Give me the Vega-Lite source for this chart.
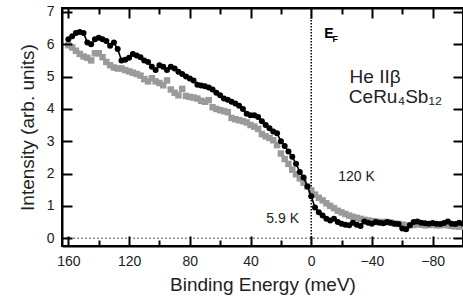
{
  "$schema": "https://vega.github.io/schema/vega-lite/v6.json",
  "width": 401,
  "height": 238,
  "autosize": {"type": "none"},
  "padding": {"left": 62, "top": 8, "right": 0, "bottom": 57},
  "background": "white",
  "config": {
    "view": {"stroke": "#000000", "strokeWidth": 2},
    "font": "Liberation Sans",
    "axis": {"labelFont": "Liberation Sans", "titleFont": "Liberation Sans", "grid": false, "domainWidth": 2, "tickWidth": 2}
  },
  "datasets": {
    "low": [
      {"E": 160, "I": 6.15}, {"E": 157.5, "I": 6.25}, {"E": 155, "I": 6.35}, {"E": 152.5, "I": 6.38}, {"E": 150, "I": 6.35},
      {"E": 147.5, "I": 6.05}, {"E": 145, "I": 6.0}, {"E": 142.5, "I": 6.15}, {"E": 140, "I": 6.2}, {"E": 137.5, "I": 6.15},
      {"E": 135, "I": 6.1}, {"E": 132.5, "I": 5.95}, {"E": 130, "I": 6.05}, {"E": 127.5, "I": 5.85}, {"E": 125, "I": 5.5},
      {"E": 122.5, "I": 5.52}, {"E": 120, "I": 5.58}, {"E": 117.5, "I": 5.7}, {"E": 115, "I": 5.65}, {"E": 112.5, "I": 5.6},
      {"E": 110, "I": 5.5}, {"E": 107.5, "I": 5.45}, {"E": 105, "I": 5.3}, {"E": 102.5, "I": 5.2}, {"E": 100, "I": 5.35},
      {"E": 97.5, "I": 5.3}, {"E": 95, "I": 5.2}, {"E": 92.5, "I": 5.3}, {"E": 90, "I": 5.25}, {"E": 87.5, "I": 5.15},
      {"E": 85, "I": 5.08}, {"E": 82.5, "I": 5.0}, {"E": 80, "I": 4.94}, {"E": 77.5, "I": 4.88}, {"E": 75, "I": 4.75},
      {"E": 72.5, "I": 4.72}, {"E": 70, "I": 4.7}, {"E": 67.5, "I": 4.66}, {"E": 65, "I": 4.6}, {"E": 62.5, "I": 4.5},
      {"E": 60, "I": 4.42}, {"E": 57.5, "I": 4.32}, {"E": 55, "I": 4.28}, {"E": 52.5, "I": 4.22}, {"E": 50, "I": 4.17},
      {"E": 47.5, "I": 4.1}, {"E": 45, "I": 4.0}, {"E": 42.5, "I": 3.85}, {"E": 40, "I": 3.8}, {"E": 37.5, "I": 3.8},
      {"E": 35, "I": 3.75}, {"E": 32.5, "I": 3.62}, {"E": 30, "I": 3.5}, {"E": 27.5, "I": 3.4}, {"E": 25, "I": 3.3},
      {"E": 22.5, "I": 3.25}, {"E": 20, "I": 3.0}, {"E": 17.5, "I": 2.85}, {"E": 15, "I": 2.68}, {"E": 12.5, "I": 2.52},
      {"E": 10, "I": 2.3}, {"E": 7.5, "I": 2.05}, {"E": 5, "I": 1.88}, {"E": 2.5, "I": 1.6}, {"E": 0, "I": 1.3},
      {"E": -2.5, "I": 0.95}, {"E": -5, "I": 0.8}, {"E": -7.5, "I": 0.7}, {"E": -10, "I": 0.6}, {"E": -12.5, "I": 0.55},
      {"E": -15, "I": 0.6}, {"E": -17.5, "I": 0.5}, {"E": -20, "I": 0.45}, {"E": -22.5, "I": 0.42}, {"E": -25, "I": 0.4},
      {"E": -27.5, "I": 0.48}, {"E": -30, "I": 0.42}, {"E": -32.5, "I": 0.38}, {"E": -35, "I": 0.52}, {"E": -37.5, "I": 0.48},
      {"E": -40, "I": 0.45}, {"E": -42.5, "I": 0.5}, {"E": -45, "I": 0.48}, {"E": -47.5, "I": 0.46}, {"E": -50, "I": 0.5},
      {"E": -52.5, "I": 0.48}, {"E": -55, "I": 0.45}, {"E": -57.5, "I": 0.44}, {"E": -60, "I": 0.3}, {"E": -62.5, "I": 0.28},
      {"E": -65, "I": 0.4}, {"E": -67.5, "I": 0.5}, {"E": -70, "I": 0.52}, {"E": -72.5, "I": 0.48}, {"E": -75, "I": 0.46},
      {"E": -77.5, "I": 0.45}, {"E": -80, "I": 0.47}, {"E": -82.5, "I": 0.45}, {"E": -85, "I": 0.44}, {"E": -87.5, "I": 0.47},
      {"E": -90, "I": 0.52}, {"E": -92.5, "I": 0.45}, {"E": -95, "I": 0.44}, {"E": -97.5, "I": 0.48}, {"E": -100, "I": 0.45}
    ],
    "high": [
      {"E": 160, "I": 5.97}, {"E": 157.5, "I": 5.9}, {"E": 155, "I": 5.8}, {"E": 152.5, "I": 5.7}, {"E": 150, "I": 5.62},
      {"E": 147.5, "I": 5.58}, {"E": 145, "I": 5.5}, {"E": 142.5, "I": 5.72}, {"E": 140, "I": 5.72}, {"E": 137.5, "I": 5.6},
      {"E": 135, "I": 5.45}, {"E": 132.5, "I": 5.35}, {"E": 130, "I": 5.28}, {"E": 127.5, "I": 5.25}, {"E": 125, "I": 5.25},
      {"E": 122.5, "I": 5.2}, {"E": 120, "I": 5.16}, {"E": 117.5, "I": 5.12}, {"E": 115, "I": 5.08}, {"E": 112.5, "I": 5.03},
      {"E": 110, "I": 4.92}, {"E": 107.5, "I": 4.85}, {"E": 105, "I": 4.95}, {"E": 102.5, "I": 4.85}, {"E": 100, "I": 4.8},
      {"E": 97.5, "I": 4.73}, {"E": 95, "I": 4.88}, {"E": 92.5, "I": 4.6}, {"E": 90, "I": 4.5}, {"E": 87.5, "I": 4.42},
      {"E": 85, "I": 4.62}, {"E": 82.5, "I": 4.4}, {"E": 80, "I": 4.37}, {"E": 77.5, "I": 4.35}, {"E": 75, "I": 4.32},
      {"E": 72.5, "I": 4.25}, {"E": 70, "I": 4.22}, {"E": 67.5, "I": 4.27}, {"E": 65, "I": 4.05}, {"E": 62.5, "I": 4.0},
      {"E": 60, "I": 3.96}, {"E": 57.5, "I": 3.93}, {"E": 55, "I": 3.9}, {"E": 52.5, "I": 3.72}, {"E": 50, "I": 3.68},
      {"E": 47.5, "I": 3.65}, {"E": 45, "I": 3.62}, {"E": 42.5, "I": 3.58}, {"E": 40, "I": 3.5}, {"E": 37.5, "I": 3.45},
      {"E": 35, "I": 3.38}, {"E": 32.5, "I": 3.22}, {"E": 30, "I": 3.15}, {"E": 27.5, "I": 3.1}, {"E": 25, "I": 3.03},
      {"E": 22.5, "I": 2.88}, {"E": 20, "I": 2.62}, {"E": 17.5, "I": 2.45}, {"E": 15, "I": 2.3}, {"E": 12.5, "I": 2.12},
      {"E": 10, "I": 1.98}, {"E": 7.5, "I": 1.85}, {"E": 5, "I": 1.72}, {"E": 2.5, "I": 1.6}, {"E": 0, "I": 1.48},
      {"E": -2.5, "I": 1.35}, {"E": -5, "I": 1.25}, {"E": -7.5, "I": 1.17}, {"E": -10, "I": 1.08}, {"E": -12.5, "I": 1.0},
      {"E": -15, "I": 0.93}, {"E": -17.5, "I": 0.85}, {"E": -20, "I": 0.8}, {"E": -22.5, "I": 0.75}, {"E": -25, "I": 0.7},
      {"E": -27.5, "I": 0.66}, {"E": -30, "I": 0.63}, {"E": -32.5, "I": 0.6}, {"E": -35, "I": 0.57}, {"E": -37.5, "I": 0.55},
      {"E": -40, "I": 0.53}, {"E": -42.5, "I": 0.52}, {"E": -45, "I": 0.5}, {"E": -47.5, "I": 0.5}, {"E": -50, "I": 0.5},
      {"E": -52.5, "I": 0.48}, {"E": -55, "I": 0.45}, {"E": -57.5, "I": 0.44}, {"E": -60, "I": 0.42}, {"E": -62.5, "I": 0.4},
      {"E": -65, "I": 0.4}, {"E": -67.5, "I": 0.41}, {"E": -70, "I": 0.43}, {"E": -72.5, "I": 0.42}, {"E": -75, "I": 0.4},
      {"E": -77.5, "I": 0.41}, {"E": -80, "I": 0.42}, {"E": -82.5, "I": 0.4}, {"E": -85, "I": 0.4}, {"E": -87.5, "I": 0.42},
      {"E": -90, "I": 0.4}, {"E": -92.5, "I": 0.38}, {"E": -95, "I": 0.37}, {"E": -97.5, "I": 0.36}, {"E": -100, "I": 0.36}
    ]
  },
  "resolve": {"scale": {"x": "shared", "y": "shared"}, "axis": {"x": "independent", "y": "independent"}},
  "layer": [
    {
      "data": {"values": [{"I": 0}]},
      "mark": {"type": "rule", "color": "#888", "strokeWidth": 1.5, "strokeDash": [2, 2]},
      "encoding": {
        "y": {"field": "I", "type": "quantitative", "scale": {"domain": [-0.24, 7.12], "nice": false, "zero": false},
              "axis": {"orient": "right", "values": [0, 1, 2, 3, 4, 5, 6, 7], "tickSize": -10, "labelExpr": "''", "tickColor": "#000000", "domain": false, "title": null, "zindex": 1}}
      }
    },
    {
      "data": {"values": [{"E": 0}]},
      "mark": {"type": "rule", "color": "black", "strokeWidth": 1.5, "strokeDash": [1.5, 1.5]},
      "encoding": {
        "x": {"field": "E", "type": "quantitative", "scale": {"domain": [164.2, -100], "nice": false, "zero": false},
              "axis": {"orient": "top", "values": [160, 140, 120, 100, 80, 60, 40, 20, 0, -20, -40, -60, -80, -100],
                       "tickSize": {"condition": {"test": "datum.value % 40 === 0", "value": -10}, "value": -6},
                       "labelExpr": "''", "tickColor": "#000000", "domainColor": "#000000", "domain": true, "title": null, "zindex": 1}}
      }
    },
    {
      "data": {"name": "high"},
      "mark": {"type": "point", "shape": "square", "filled": true, "color": "#9a9a9a", "size": 42, "opacity": 1},
      "encoding": {
        "x": {"field": "E", "type": "quantitative", "scale": {"domain": [164.2, -100], "nice": false, "zero": false},
              "axis": {"orient": "bottom", "values": [160, 140, 120, 100, 80, 60, 40, 20, 0, -20, -40, -60, -80, -100],
                       "labelExpr": "datum.value % 40 === 0 ? datum.label : ''",
                       "tickSize": {"condition": {"test": "datum.value % 40 === 0", "value": -10}, "value": -6},
                       "tickColor": "#000000", "domain": true, "domainColor": "#000000", "labelColor": "#222", "labelFontSize": 14, "labelPadding": 18, "title": "Binding Energy (meV)", "titleColor": "#222", "titleFontWeight": "normal", "titleFontSize": 19, "titlePadding": 7, "zindex": 1}},
        "y": {"field": "I", "type": "quantitative", "scale": {"domain": [-0.24, 7.12], "nice": false, "zero": false},
              "axis": {"orient": "left", "values": [0, 1, 2, 3, 4, 5, 6, 7], "tickSize": -10, "tickColor": "#000000", "domain": true, "domainColor": "#000000", "labelColor": "#222", "labelFontSize": 14, "labelPadding": 18, "title": "Intensity (arb. units)", "titleColor": "#222", "titleFontWeight": "normal", "titleFontSize": 19, "titlePadding": 9, "zindex": 1}}
      }
    },
    {
      "data": {"name": "low"},
      "mark": {"type": "line", "color": "black", "strokeWidth": 1.6},
      "encoding": {
        "x": {"field": "E", "type": "quantitative", "axis": null},
        "y": {"field": "I", "type": "quantitative", "axis": null}
      }
    },
    {
      "data": {"name": "low"},
      "mark": {"type": "point", "shape": "circle", "filled": true, "color": "black", "size": 36, "opacity": 1},
      "encoding": {
        "x": {"field": "E", "type": "quantitative", "axis": null},
        "y": {"field": "I", "type": "quantitative", "axis": null}
      }
    },
    {
      "data": {"values": [{"t": "E", "E": -8.6, "I": 6.18}]},
      "mark": {"type": "text", "align": "left", "baseline": "alphabetic", "fontSize": 14, "fontWeight": "bold", "color": "black"},
      "encoding": {"x": {"field": "E", "type": "quantitative", "axis": null}, "y": {"field": "I", "type": "quantitative", "axis": null}, "text": {"field": "t"}}
    },
    {
      "data": {"values": [{"t": "F", "E": -14, "I": 6.07}]},
      "mark": {"type": "text", "align": "left", "baseline": "alphabetic", "fontSize": 9, "fontWeight": "bold", "color": "black"},
      "encoding": {"x": {"field": "E", "type": "quantitative", "axis": null}, "y": {"field": "I", "type": "quantitative", "axis": null}, "text": {"field": "t"}}
    },
    {
      "data": {"values": [{"t": "He IIβ", "E": -25.3, "I": 4.79}, {"t": "CeRu₄Sb₁₂", "E": -24.8, "I": 4.19}]},
      "mark": {"type": "text", "align": "left", "baseline": "alphabetic", "fontSize": 19, "color": "#222"},
      "encoding": {"x": {"field": "E", "type": "quantitative", "axis": null}, "y": {"field": "I", "type": "quantitative", "axis": null}, "text": {"field": "t"}}
    },
    {
      "data": {"values": [{"t": "120 K", "E": -17.8, "I": 1.78}, {"t": "5.9 K", "E": 29.6, "I": 0.46}]},
      "mark": {"type": "text", "align": "left", "baseline": "alphabetic", "fontSize": 14, "color": "#222"},
      "encoding": {"x": {"field": "E", "type": "quantitative", "axis": null}, "y": {"field": "I", "type": "quantitative", "axis": null}, "text": {"field": "t"}}
    }
  ]
}
